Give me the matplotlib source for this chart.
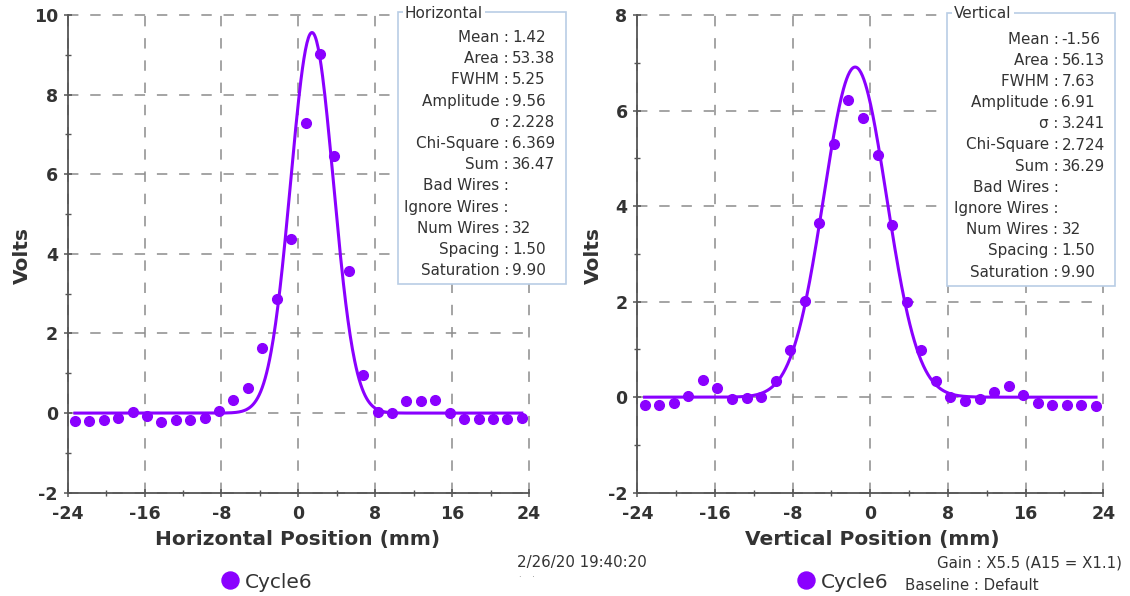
import numpy as np
import matplotlib
matplotlib.use('Agg')
import matplotlib.pyplot as plt
from matplotlib.patches import Rectangle
from matplotlib.ticker import MultipleLocator

plt.rcParams['font.family'] = ['DejaVu Sans']
plt.rcParams['lines.scale_dashes'] = False

W, H = 1130, 596

# ---------------- data ----------------
wire_positions = [-23.25, -21.75, -20.25, -18.75, -17.25, -15.75, -14.25, -12.75,
                  -11.25, -9.75, -8.25, -6.75, -5.25, -3.75, -2.25, -0.75,
                  0.75, 2.25, 3.75, 5.25, 6.75, 8.25, 9.75, 11.25,
                  12.75, 14.25, 15.75, 17.25, 18.75, 20.25, 21.75, 23.25]
horiz_volts = [-0.20, -0.20, -0.17, -0.12, 0.02, -0.08, -0.22, -0.17,
               -0.18, -0.12, 0.04, 0.34, 0.64, 1.63, 2.86, 4.38,
               7.28, 9.02, 6.47, 3.58, 0.95, 0.02, 0.00, 0.30,
               0.30, 0.32, 0.00, -0.15, -0.15, -0.15, -0.15, -0.13]
vert_volts = [-0.17, -0.16, -0.13, 0.02, 0.35, 0.19, -0.03, -0.01,
              0.00, 0.33, 0.99, 2.02, 3.65, 5.30, 6.22, 5.85,
              5.07, 3.60, 2.00, 0.99, 0.34, 0.00, -0.09, -0.04,
              0.11, 0.23, 0.05, -0.13, -0.16, -0.17, -0.17, -0.18]

# Gaussian fit parameters (as reported in the stats boxes)
horiz_fit_mean, horiz_fit_amp, horiz_fit_sigma = 1.42, 9.56, 2.228
vert_fit_mean, vert_fit_amp, vert_fit_sigma = -1.56, 6.91, 3.241

stat_labels = ['Mean', 'Area', 'FWHM', 'Amplitude', 'σ', 'Chi-Square', 'Sum',
               'Bad Wires', 'Ignore Wires', 'Num Wires', 'Spacing', 'Saturation']
horiz_stats = ['1.42', '53.38', '5.25', '9.56', '2.228', '6.369', '36.47',
               '', '', '32', '1.50', '9.90']
vert_stats = ['-1.56', '56.13', '7.63', '6.91', '3.241', '2.724', '36.29',
              '', '', '32', '1.50', '9.90']

x_ticks = [-24, -16, -8, 0, 8, 16, 24]
x_tick_labels = ['-24', '-16', '-8', '0', '8', '16', '24']
horiz_y_ticks = [-2, 0, 2, 4, 6, 8, 10]
vert_y_ticks = [-2, 0, 2, 4, 6, 8]

series_name = 'Cycle6'
timestamp = '2/26/20 19:40:20'
gain_text = 'Gain : X5.5 (A15 = X1.1)'
baseline_text = 'Baseline : Default'

# ---------------- style ----------------
purple = '#8a00ff'
grid_col = '#8c8c8c'
axis_col = '#555555'
text_col = '#333333'
box_col = '#b9cde5'


def fx(x):
    return x / W


def fy(y):
    return 1 - y / H


fig = plt.figure(figsize=(W / 100, H / 100), dpi=100)
fig.patch.set_facecolor('white')

ax_h = fig.add_axes([fx(67.7), fy(492.7), (529 - 67.7) / W, (492.7 - 15) / H])
ax_v = fig.add_axes([fx(637.3), fy(492.7), (1103.3 - 637.3) / W, (492.7 - 15) / H])


def style_axes(ax, yticks, ylim):
    ax.set_xlim(-24, 24)
    ax.set_ylim(*ylim)
    ax.set_xticks(x_ticks)
    ax.set_xticklabels(x_tick_labels, fontweight='bold')
    ax.set_yticks(yticks)
    ax.set_yticklabels([str(t) for t in yticks], fontweight='bold')
    ax.xaxis.set_minor_locator(MultipleLocator(4))
    ax.yaxis.set_minor_locator(MultipleLocator(1))
    for s in ['top', 'right']:
        ax.spines[s].set_visible(False)
    for s in ['left', 'bottom']:
        ax.spines[s].set_color(axis_col)
        ax.spines[s].set_linewidth(1.3)
        ax.spines[s].set_zorder(5)
    ax.tick_params(which='major', direction='inout', length=6, width=1.1,
                   color=axis_col, labelsize=12.5, labelcolor=text_col)
    ax.tick_params(which='minor', direction='inout', length=4, width=1.0,
                   color=axis_col)
    ax.tick_params(axis='x', which='major', pad=6)
    ax.tick_params(axis='y', which='major', pad=4)
    ax.grid(True, which='major', color=grid_col, linestyle=(0, (7.5, 8.5)),
            linewidth=1.1)
    ax.set_axisbelow(True)
    for gl in ax.get_xgridlines() + ax.get_ygridlines():
        gl.set_clip_on(False)


style_axes(ax_h, horiz_y_ticks, (-2, 10))
style_axes(ax_v, vert_y_ticks, (-2, 8))

# fit curves
xf = np.linspace(wire_positions[0], wire_positions[-1], 600)
ax_h.plot(xf, horiz_fit_amp * np.exp(-(xf - horiz_fit_mean) ** 2 / (2 * horiz_fit_sigma ** 2)),
          color=purple, lw=2.2, zorder=3)
ax_v.plot(xf, vert_fit_amp * np.exp(-(xf - vert_fit_mean) ** 2 / (2 * vert_fit_sigma ** 2)),
          color=purple, lw=2.2, zorder=3)

# data points
ax_h.plot(wire_positions, horiz_volts, 'o', color=purple, ms=7, mec=purple,
          zorder=4, label=series_name)
ax_v.plot(wire_positions, vert_volts, 'o', color=purple, ms=7, mec=purple,
          zorder=4, label=series_name)

# axis labels
fig.text(fx(298), fy(540), 'Horizontal Position (mm)', ha='center', va='center',
         fontsize=14.5, fontweight='bold', color=text_col)
fig.text(fx(872), fy(540), 'Vertical Position (mm)', ha='center', va='center',
         fontsize=14.5, fontweight='bold', color=text_col)
fig.text(fx(22), fy(256), 'Volts', ha='center', va='center', rotation=90,
         fontsize=14.5, fontweight='bold', color=text_col)
fig.text(fx(593), fy(256), 'Volts', ha='center', va='center', rotation=90,
         fontsize=14.5, fontweight='bold', color=text_col)


# stats boxes
def stats_box(x0, x1, y0, y1, title, title_x, colon_x, row0, values):
    fig.patches.append(Rectangle((fx(x0), fy(y1)), (x1 - x0) / W, (y1 - y0) / H,
                                 transform=fig.transFigure, facecolor='white',
                                 edgecolor=box_col, lw=1.2, zorder=6))
    fig.text(fx(title_x), fy(y0 + 1), title, ha='left', va='center', fontsize=11,
             color=text_col, zorder=8,
             bbox=dict(boxstyle='square,pad=0.15', fc='white', ec='none'))
    for i, (lab, val) in enumerate(zip(stat_labels, values)):
        y = row0 + i * 21.2
        fig.text(fx(colon_x + 2.5), fy(y), lab + ' :', ha='right', va='center',
                 fontsize=10.9, color=text_col, zorder=8)
        fig.text(fx(colon_x + 5.5), fy(y), val, ha='left', va='center',
                 fontsize=10.9, color=text_col, zorder=8)


stats_box(398, 566, 12, 284, 'Horizontal', 405, 506.5, 37.5, horiz_stats)
stats_box(947, 1115, 13, 286, 'Vertical', 954, 1056, 39.0, vert_stats)

# legends
for ax, xl in [(ax_h, 223), (ax_v, 799)]:
    ax.legend(loc='center left', bbox_to_anchor=(fx(xl), fy(582)),
              bbox_transform=fig.transFigure, frameon=False, markerscale=1.75,
              handlelength=0.7, handletextpad=0.4, borderpad=0, borderaxespad=0,
              prop={'size': 14.5}, labelcolor=text_col)

# footer texts
fig.text(fx(517), fy(563), timestamp, ha='left', va='center', fontsize=10.8,
         color=text_col)
fig.text(fx(519), fy(578), '·    ·', ha='left', va='center', fontsize=6,
         color='#777777')
fig.text(fx(937), fy(563), gain_text, ha='left', va='center', fontsize=10.8,
         color=text_col)
fig.text(fx(905), fy(586), baseline_text, ha='left', va='center', fontsize=10.8,
         color=text_col)

fig.savefig('out.png', dpi=100, facecolor='white')
